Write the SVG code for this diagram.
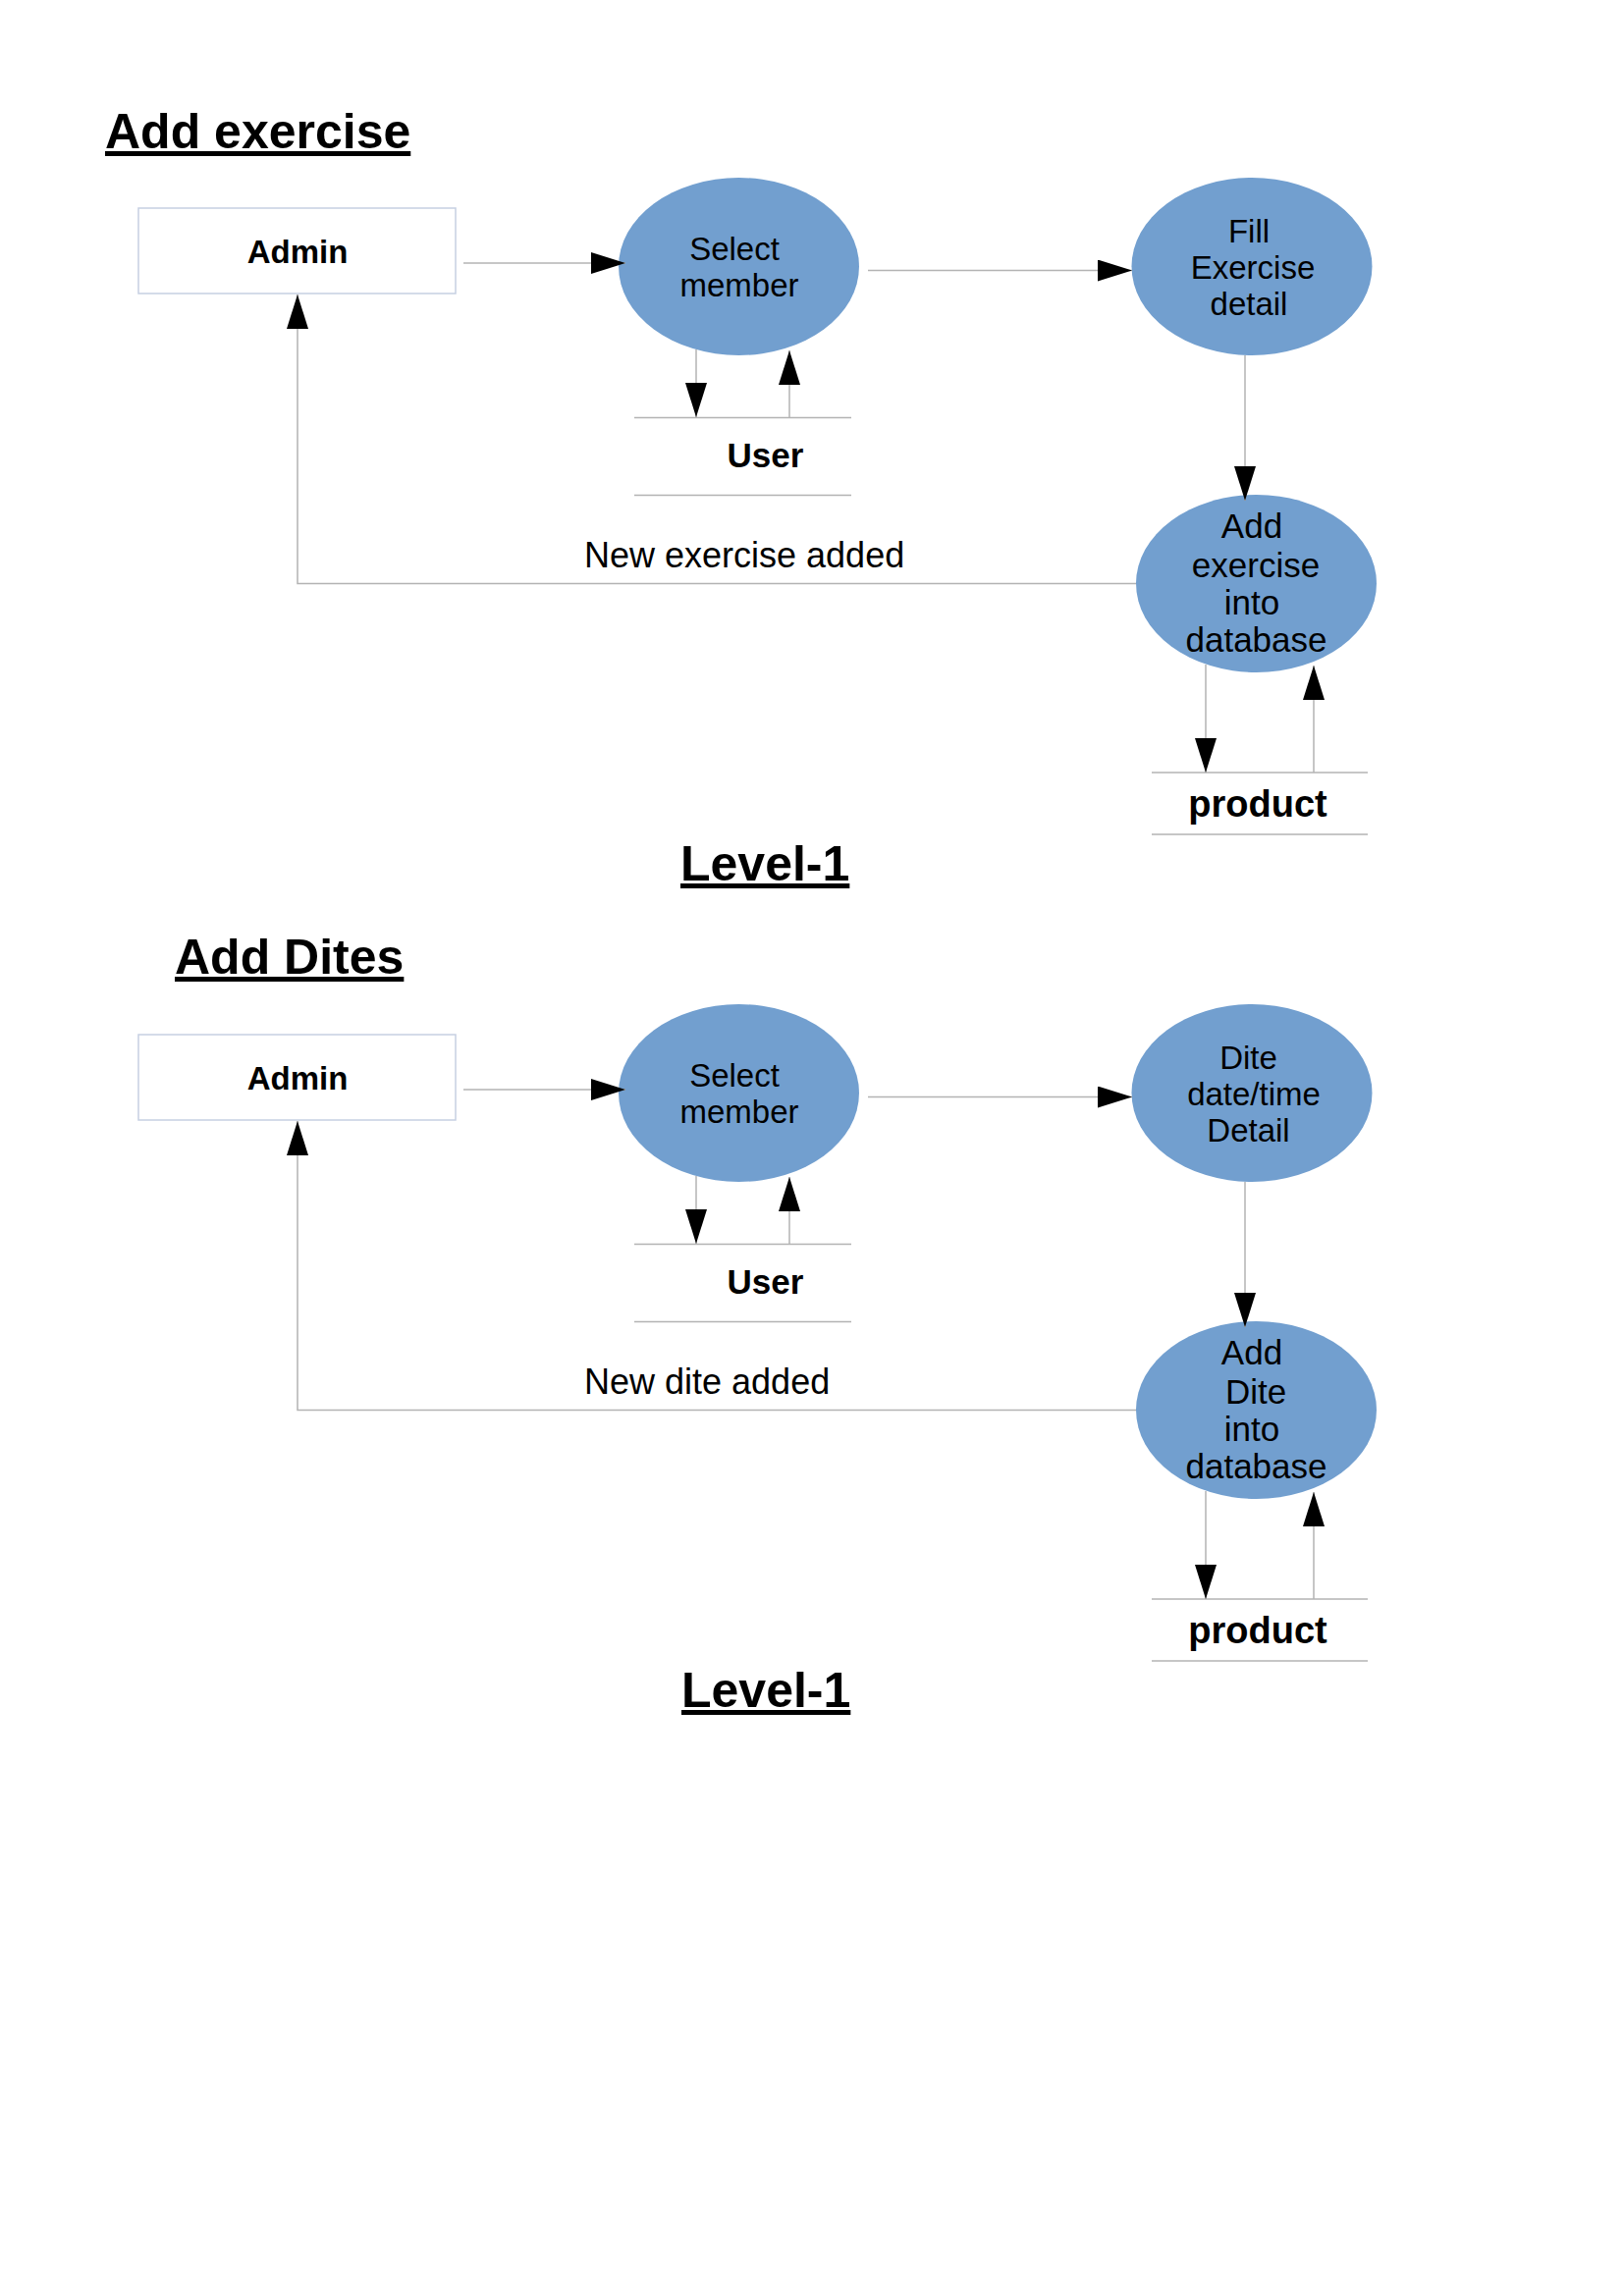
<svg xmlns="http://www.w3.org/2000/svg" width="1654" height="2339" viewBox="0 0 1654 2339">
<style>
text{font-family:"Liberation Sans",Arial,sans-serif;fill:#000}
.h{font-size:50px;font-weight:bold;text-decoration:underline}
.ent{fill:#fff;stroke:#c6d0e2;stroke-width:1.5}
.entt{font-size:33px;font-weight:bold;text-anchor:middle}
.proc{fill:#729fcf;stroke:none}
.pt{font-size:33px;text-anchor:middle}
.pt2{font-size:35px;text-anchor:middle}
.st{stroke:#b3b3b3;stroke-width:1.5}
.stt{font-size:35px;font-weight:bold;text-anchor:middle}
.lbl{font-size:36px}
.c{fill:none;stroke:#b3b3b3;stroke-width:1.5;marker-end:url(#ah)}
</style>
<defs>
<marker id="ah" markerUnits="userSpaceOnUse" markerWidth="35" markerHeight="22" refX="35" refY="11" orient="auto">
<path d="M0,0 L35,11 L0,22 z" fill="#000"/>
</marker>
</defs>
<rect width="1654" height="2339" fill="#fff"/>

<!-- Diagram 1 -->
<g id="title1"><text class="h" x="107" y="151">Add exercise</text></g>
<g id="admin1"><rect class="ent" x="141" y="212" width="323" height="87"/><text class="entt" x="303" y="268">Admin</text></g>
<g id="select1"><ellipse class="proc" cx="752.5" cy="271.5" rx="122.5" ry="90.5"/><text class="pt" x="748" y="265">Select</text><text class="pt" x="753" y="302">member</text></g>
<g id="fill1"><ellipse class="proc" cx="1275" cy="271.5" rx="122.5" ry="90.5"/><text class="pt" x="1272" y="247">Fill</text><text class="pt" x="1276" y="284">Exercise</text><text class="pt" x="1272" y="321">detail</text></g>
<g id="user1"><line class="st" x1="646" y1="425.5" x2="867" y2="425.5"/><line class="st" x1="646" y1="504.5" x2="867" y2="504.5"/><text class="stt" x="779.5" y="476">User</text></g>
<g id="addex1"><ellipse class="proc" cx="1279.5" cy="594.5" rx="122.5" ry="90.5"/><text class="pt2" x="1275" y="548">Add</text><text class="pt2" x="1279" y="588">exercise</text><text class="pt2" x="1275" y="626">into</text><text class="pt2" x="1279.5" y="664">database</text></g>
<g id="product1"><line class="st" x1="1173" y1="787" x2="1393" y2="787"/><line class="st" x1="1173" y1="850" x2="1393" y2="850"/><text class="stt" style="font-size:38px" x="1281" y="832">product</text></g>
<g id="level1a"><text class="h" x="693" y="897">Level-1</text></g>
<g id="connectors1">
<line class="c" x1="472" y1="268" x2="637" y2="268"/>
<line class="c" x1="884" y1="275.5" x2="1153" y2="275.5"/>
<line class="c" x1="709" y1="356" x2="709" y2="425"/>
<line class="c" x1="804" y1="425" x2="804" y2="357"/>
<line class="c" x1="1268" y1="362" x2="1268" y2="510"/>
<polyline class="c" points="1157,594.5 303,594.5 303,300"/>
<line class="c" x1="1228" y1="677" x2="1228" y2="787"/>
<line class="c" x1="1338" y1="787" x2="1338" y2="678"/>
<text class="lbl" x="595" y="578">New exercise added</text>
</g>

<!-- Diagram 2 -->
<g id="title2"><text class="h" x="178" y="992">Add Dites</text></g>
<g id="admin2"><rect class="ent" x="141" y="1054" width="323" height="87"/><text class="entt" x="303" y="1110">Admin</text></g>
<g id="select2"><ellipse class="proc" cx="752.5" cy="1113.5" rx="122.5" ry="90.5"/><text class="pt" x="748" y="1107">Select</text><text class="pt" x="753" y="1144">member</text></g>
<g id="dite2"><ellipse class="proc" cx="1275" cy="1113.5" rx="122.5" ry="90.5"/><text class="pt" x="1271.5" y="1089">Dite</text><text class="pt" x="1277" y="1126">date/time</text><text class="pt" x="1271.5" y="1163">Detail</text></g>
<g id="user2"><line class="st" x1="646" y1="1267.5" x2="867" y2="1267.5"/><line class="st" x1="646" y1="1346.5" x2="867" y2="1346.5"/><text class="stt" x="779.5" y="1318">User</text></g>
<g id="adddite2"><ellipse class="proc" cx="1279.5" cy="1436.5" rx="122.5" ry="90.5"/><text class="pt2" x="1275" y="1390">Add</text><text class="pt2" x="1279" y="1430">Dite</text><text class="pt2" x="1275" y="1468">into</text><text class="pt2" x="1279.5" y="1506">database</text></g>
<g id="product2"><line class="st" x1="1173" y1="1629" x2="1393" y2="1629"/><line class="st" x1="1173" y1="1692" x2="1393" y2="1692"/><text class="stt" style="font-size:38px" x="1281" y="1674">product</text></g>
<g id="level1b"><text class="h" x="694" y="1739">Level-1</text></g>
<g id="connectors2">
<line class="c" x1="472" y1="1110" x2="637" y2="1110"/>
<line class="c" x1="884" y1="1117.5" x2="1153" y2="1117.5"/>
<line class="c" x1="709" y1="1198" x2="709" y2="1267"/>
<line class="c" x1="804" y1="1267" x2="804" y2="1199"/>
<line class="c" x1="1268" y1="1204" x2="1268" y2="1352"/>
<polyline class="c" points="1157,1436.5 303,1436.5 303,1142"/>
<line class="c" x1="1228" y1="1519" x2="1228" y2="1629"/>
<line class="c" x1="1338" y1="1629" x2="1338" y2="1520"/>
<text class="lbl" x="595" y="1420">New dite added</text>
</g>
</svg>
